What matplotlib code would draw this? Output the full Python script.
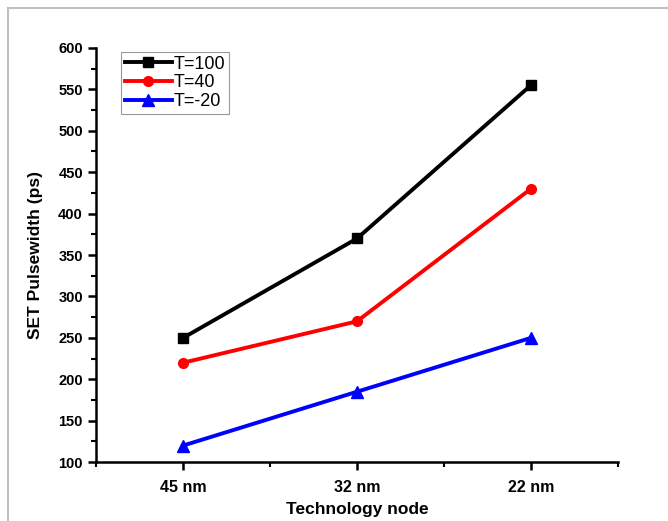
import matplotlib
matplotlib.use("Agg")
import matplotlib.pyplot as plt
from matplotlib.lines import Line2D
from matplotlib.ticker import MultipleLocator

plt.rcParams['font.family'] = ['Liberation Sans', 'DejaVu Sans']

nodes = ['45 nm', '32 nm', '22 nm']
t100 = [250, 370, 555]
t40 = [220, 270, 430]
tm20 = [120, 185, 250]

fig = plt.figure(figsize=(6.68, 5.21), dpi=100)
ax = fig.add_axes([0.144, 0.113, 0.781, 0.795])

x = [1, 2, 3]
ax.plot(x, t100, color='black', lw=2.8, marker='s', ms=6.5, label='T=100')
ax.plot(x, t40, color='#ff0000', lw=2.8, marker='o', ms=7, label='T=40')
ax.plot(x, tm20, color='#0000ff', lw=2.8, marker='^', ms=8, label='T=-20')

ax.set_xlim(0.5, 3.5)
ax.set_ylim(100, 600)
ax.set_xticks(x)
ax.set_xticklabels(nodes)
ax.xaxis.set_minor_locator(MultipleLocator(0.5))
ax.yaxis.set_major_locator(MultipleLocator(50))
ax.yaxis.set_minor_locator(MultipleLocator(25))

for side in ['top', 'right']:
    ax.spines[side].set_visible(False)
for side in ['left', 'bottom']:
    ax.spines[side].set_linewidth(1.8)

ax.tick_params(which='major', direction='out', length=6, width=1.8, labelsize=10.5)
ax.tick_params(axis='x', which='major', labelsize=11.5, pad=7)
ax.tick_params(which='minor', direction='out', length=3.5, width=1.5)
for lab in ax.get_xticklabels() + ax.get_yticklabels():
    lab.set_fontweight('bold')

ax.set_xlabel('Technology node', fontsize=12.5, fontweight='bold', labelpad=5)
ax.set_ylabel('SET Pulsewidth (ps)', fontsize=12.5, fontweight='bold', labelpad=11)

leg = ax.legend(loc='upper left', bbox_to_anchor=(0.048, 0.99), fontsize=13,
                frameon=True, fancybox=False, handlelength=2.6,
                handletextpad=0.1, borderpad=0.2, labelspacing=0.1,
                borderaxespad=0)
leg.get_frame().set_edgecolor('#808080')
leg.get_frame().set_linewidth(0.8)

# thin grey frame along the top and left edges
fig.add_artist(Line2D([8 / 668, 1], [1 - 8 / 521, 1 - 8 / 521],
                      transform=fig.transFigure, color='#c0c0c0', lw=1.5))
fig.add_artist(Line2D([8 / 668, 8 / 668], [0, 1 - 8 / 521],
                      transform=fig.transFigure, color='#c0c0c0', lw=1.5))

fig.savefig('out.png', dpi=100)
